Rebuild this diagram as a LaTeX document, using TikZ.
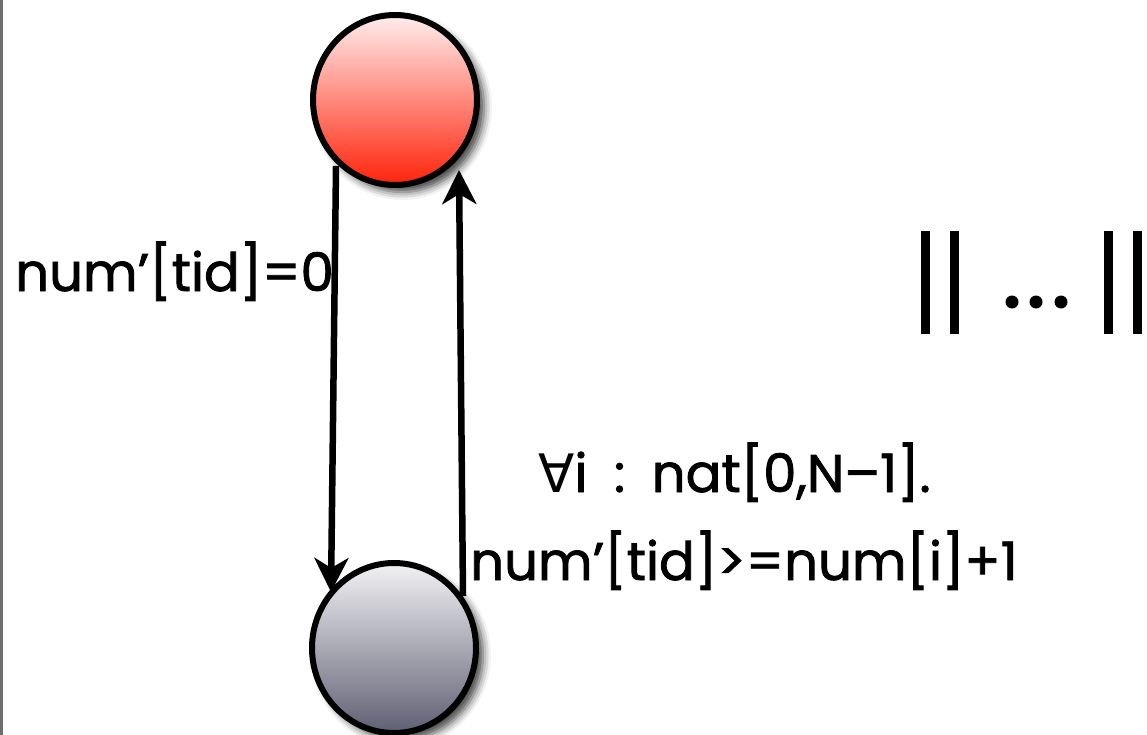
\documentclass[tikz,border=0pt]{standalone}
\usepackage{fontspec}
\setmainfont{Poppins}[FakeBold=1.5]
\newfontfamily\symfont{DejaVu Sans}
\usetikzlibrary{shapes.geometric,shadows.blur,arrows.meta,calc}
\definecolor{redtop}{RGB}{255,238,238}
\definecolor{redbot}{RGB}{255,35,10}
\definecolor{graytop}{RGB}{242,242,244}
\definecolor{graybot}{RGB}{95,95,115}
\definecolor{edgegray}{RGB}{110,110,110}
\tikzset{
  state/.style={ellipse, draw=black, line width=6pt, minimum width=164pt, minimum height=170pt, inner sep=0pt,
    blur shadow={shadow xshift=7pt, shadow yshift=-7pt, shadow blur radius=8pt, shadow opacity=75}},
  redstate/.style={state, top color=redtop, bottom color=redbot},
  graystate/.style={state, top color=graytop, bottom color=graybot},
  arr/.style={line width=6.5pt, -{Stealth[length=34pt, width=34pt, inset=10pt]}},
  lbl/.style={font=\fontsize{53}{60}\selectfont, inner sep=0pt},
  bar/.style={fill=black, draw=none},
}
\begin{document}
\begin{tikzpicture}[x=1pt, y=-1pt]
\useasboundingbox (0,0) rectangle (1147,735);
\fill[edgegray] (0,0) rectangle (2.5,735);
\node[redstate] (top) at (395,100) {};
\node[graystate] (bot) at (394,648) {};
\draw[arr] ($(top.center)+(-59,66)$) -- ($(bot.center)+(-63,-56)$);
\draw[arr] ($(bot.center)+(69,-52)$) -- ($(top.center)+(64,70)$);
\node[lbl, anchor=base west] (l1) at (15,291) {num’[tid]=0};
\node[lbl, anchor=base west] (l2) at (538,492) {{\symfont ∀}i\enspace:\enspace nat[0,N–1].};
\node[lbl, anchor=base west] (l3) at (470,580) {num’[tid]>=num[i]+1};
\fill[bar] (921,231) rectangle (930,334);
\fill[bar] (950,231) rectangle (959,334);
\fill[bar] (1104,231) rectangle (1113,334);
\fill[bar] (1133,231) rectangle (1142,334);
\fill (1012,302) circle (6.5);
\fill (1036,302) circle (6.5);
\fill (1061,302) circle (6.5);
\end{tikzpicture}
\end{document}
